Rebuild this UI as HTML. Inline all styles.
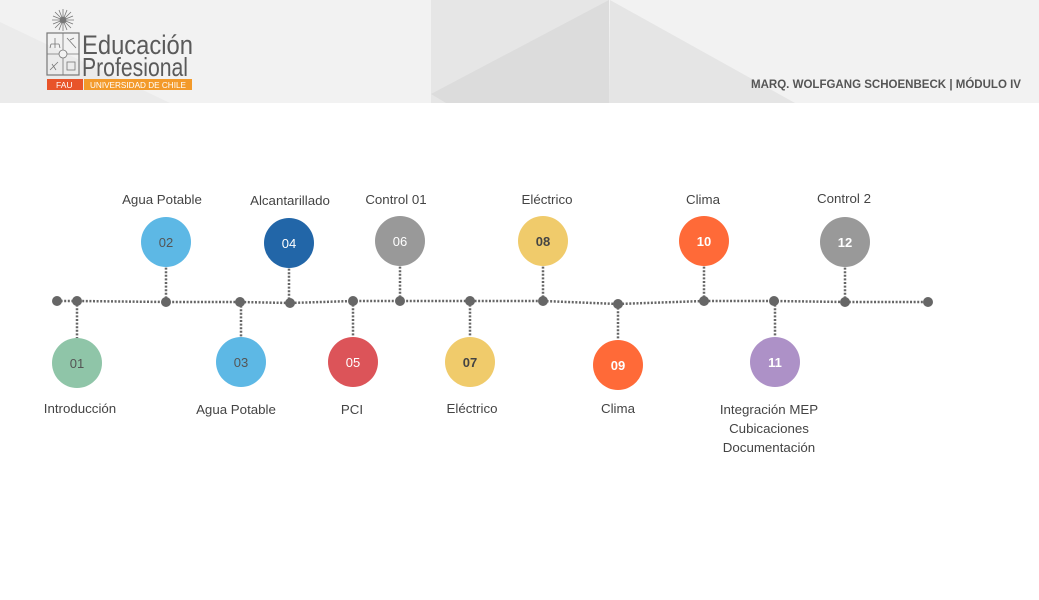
<!DOCTYPE html>
<html><head><meta charset="utf-8">
<style>
html,body{margin:0;padding:0;background:#fff;}
svg{display:block;}
</style></head>
<body>
<svg width="1039" height="600" viewBox="0 0 1039 600" xmlns="http://www.w3.org/2000/svg">
<!-- header -->
<rect x="0" y="0" width="1039" height="103" fill="#f2f2f2"/>
<polygon points="0,22 170,103 0,103" fill="#ebebeb"/>
<rect x="431" y="0" width="178" height="103" fill="#e6e6e6"/>
<polygon points="431,94 609,0 609,103 446,103" fill="#dcdcdc"/>
<polygon points="610,0 795,103 609,103" fill="#e5e5e5"/>
<text x="751" y="88" font-family="Liberation Sans, sans-serif" font-size="12" font-weight="bold" fill="#555" textLength="270" lengthAdjust="spacingAndGlyphs">MARQ. WOLFGANG SCHOENBECK | MÓDULO IV</text>

<!-- logo emblem -->
<g stroke="#777" stroke-width="0.8" fill="none">
  <g transform="translate(63,20)">
    <line x1="-11" y1="0" x2="11" y2="0"/><line x1="0" y1="-11" x2="0" y2="11"/>
    <line x1="-8" y1="-8" x2="8" y2="8"/><line x1="-8" y1="8" x2="8" y2="-8"/>
    <line x1="-10" y1="-4" x2="10" y2="4"/><line x1="-10" y1="4" x2="10" y2="-4"/>
    <line x1="-4" y1="-10" x2="4" y2="10"/><line x1="4" y1="-10" x2="-4" y2="10"/>
    <circle cx="0" cy="0" r="3" fill="#777"/>
  </g>
  <rect x="47" y="33" width="32" height="42" stroke-width="1.2"/>
  <line x1="63" y1="33" x2="63" y2="75"/>
  <line x1="47" y1="54" x2="79" y2="54"/>
  <circle cx="63" cy="54" r="4" fill="#f2f2f2"/>
  <path d="M51 44 L59 44 M55 38 L55 48 M51 44 L50 48 M59 44 L60 48"/>
  <path d="M67 38 L76 48 M70 40 L74 38"/>
  <path d="M50 70 L58 62 M52 64 L56 70"/>
  <rect x="67" y="62" width="8" height="8"/>
</g>
<text x="82" y="54" font-family="Liberation Sans, sans-serif" font-size="27" fill="#5a5a5a" textLength="111" lengthAdjust="spacingAndGlyphs">Educación</text>
<text x="82" y="76" font-family="Liberation Sans, sans-serif" font-size="26" fill="#5a5a5a" textLength="106" lengthAdjust="spacingAndGlyphs">Profesional</text>
<rect x="47" y="79" width="36" height="11" fill="#e8542a"/>
<rect x="84" y="79" width="108" height="11" fill="#f39a2a"/>
<text x="56" y="88" font-family="Liberation Sans, sans-serif" font-size="8.5" fill="#fff">FAU</text>
<text x="90" y="88" font-family="Liberation Sans, sans-serif" font-size="8.5" fill="#fff" textLength="96" lengthAdjust="spacingAndGlyphs">UNIVERSIDAD DE CHILE</text>

<!-- timeline line -->
<g stroke="#666" stroke-width="2.5" stroke-dasharray="2 1.6" fill="none">
  <polyline points="57,301 77,301 166,302 240,302 290,303 353,301 400,301 470,301 543,301 618,304 704,301 774,301 845,302 928,302"/>
  <line x1="77" y1="301" x2="77" y2="338"/>
  <line x1="166" y1="302" x2="166" y2="267"/>
  <line x1="241" y1="302" x2="241" y2="337"/>
  <line x1="289" y1="303" x2="289" y2="268"/>
  <line x1="353" y1="301" x2="353" y2="337"/>
  <line x1="400" y1="301" x2="400" y2="266"/>
  <line x1="470" y1="301" x2="470" y2="337"/>
  <line x1="543" y1="301" x2="543" y2="266"/>
  <line x1="618" y1="304" x2="618" y2="340"/>
  <line x1="704" y1="301" x2="704" y2="266"/>
  <line x1="775" y1="301" x2="775" y2="337"/>
  <line x1="845" y1="302" x2="845" y2="267"/>
</g>
<g fill="#666">
  <circle cx="57" cy="301" r="5"/><circle cx="77" cy="301" r="5"/>
  <circle cx="166" cy="302" r="5"/><circle cx="240" cy="302" r="5"/>
  <circle cx="290" cy="303" r="5"/><circle cx="353" cy="301" r="5"/>
  <circle cx="400" cy="301" r="5"/><circle cx="470" cy="301" r="5"/>
  <circle cx="543" cy="301" r="5"/><circle cx="618" cy="304" r="5"/>
  <circle cx="704" cy="301" r="5"/><circle cx="774" cy="301" r="5"/>
  <circle cx="845" cy="302" r="5"/><circle cx="928" cy="302" r="5"/>
</g>

<!-- circles -->
<circle cx="77" cy="363" r="25" fill="#8fc5a8"/>
<circle cx="166" cy="242" r="25" fill="#5db8e5"/>
<circle cx="241" cy="362" r="25" fill="#5db8e5"/>
<circle cx="289" cy="243" r="25" fill="#2266a8"/>
<circle cx="353" cy="362" r="25" fill="#dc5459"/>
<circle cx="400" cy="241" r="25" fill="#999999"/>
<circle cx="470" cy="362" r="25" fill="#f0cb6b"/>
<circle cx="543" cy="241" r="25" fill="#f0cb6b"/>
<circle cx="618" cy="365" r="25" fill="#ff6a38"/>
<circle cx="704" cy="241" r="25" fill="#ff6a38"/>
<circle cx="775" cy="362" r="25" fill="#ad91c7"/>
<circle cx="845" cy="242" r="25" fill="#999999"/>

<g font-family="Liberation Sans, sans-serif" font-size="13" text-anchor="middle">
  <text x="77" y="368" fill="#555">01</text>
  <text x="166" y="247" fill="#555">02</text>
  <text x="241" y="367" fill="#555">03</text>
  <text x="289" y="248" fill="#fff">04</text>
  <text x="353" y="367" fill="#fff">05</text>
  <text x="400" y="246" fill="#fff">06</text>
  <text x="470" y="367" fill="#444" font-weight="bold">07</text>
  <text x="543" y="246" fill="#444" font-weight="bold">08</text>
  <text x="618" y="370" fill="#fff" font-weight="bold">09</text>
  <text x="704" y="246" fill="#fff" font-weight="bold">10</text>
  <text x="775" y="367" fill="#fff" font-weight="bold">11</text>
  <text x="845" y="247" fill="#fff" font-weight="bold">12</text>
</g>

<!-- labels -->
<g font-family="Liberation Sans, sans-serif" font-size="13.3" fill="#444" text-anchor="middle">
  <text x="162" y="204">Agua Potable</text>
  <text x="290" y="205">Alcantarillado</text>
  <text x="396" y="204">Control 01</text>
  <text x="547" y="204">Eléctrico</text>
  <text x="703" y="204">Clima</text>
  <text x="844" y="203">Control 2</text>
  <text x="80" y="413">Introducción</text>
  <text x="236" y="414">Agua Potable</text>
  <text x="352" y="414">PCI</text>
  <text x="472" y="413">Eléctrico</text>
  <text x="618" y="413">Clima</text>
  <text x="769" y="414">Integración MEP</text>
  <text x="769" y="433">Cubicaciones</text>
  <text x="769" y="452">Documentación</text>
</g>
</svg>
</body></html>
